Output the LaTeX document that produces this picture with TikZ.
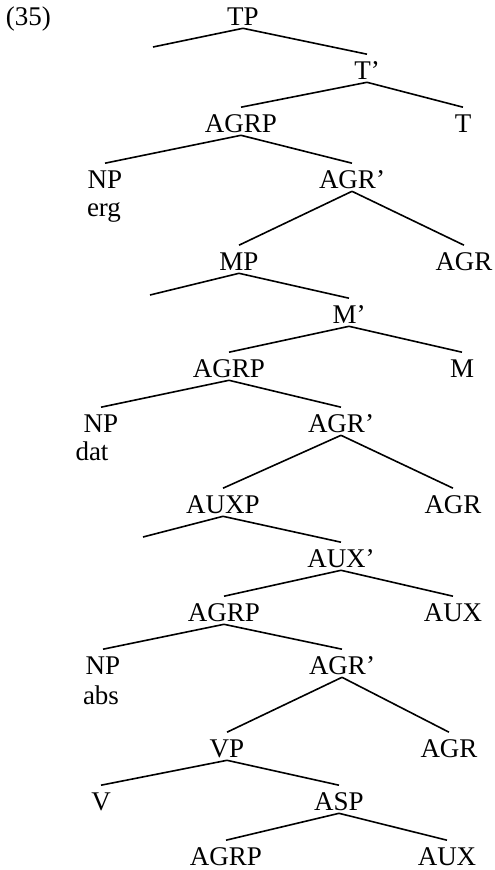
\documentclass[tikz,border=0pt]{standalone}
\usepackage{fontspec}
\setmainfont{Liberation Serif}
\usepackage{tikz}

\begin{document}
\begin{tikzpicture}[-,x=1pt,y=-1pt,line width=1.6pt,
  main node/.style={font=\fontsize{27}{32}\selectfont,text height=21.5pt,text depth=0pt,
    inner ysep=2.5pt,inner xsep=0pt,anchor=base},
  case node/.style={font=\fontsize{27}{32}\selectfont,inner sep=0pt,anchor=base}]
  \useasboundingbox (0,0) rectangle (495,870);

  \node[case node,anchor=base west] (ex) at (5,25) {(35)};

  \node[main node] (1) at (243,25) {TP};
  \node[main node] (2) at (367,79) {T’};
  \node[main node] (3) at (241,132) {AGRP};
  \node[main node] (4) at (463,132) {T};
  \node[main node] (5) at (105,188) {NP};
  \node[main node] (6) at (352,188) {AGR’};
  \node[main node] (7) at (239,270) {MP};
  \node[main node] (8) at (464,270) {AGR};
  \node[main node] (9) at (349,323) {M’};
  \node[main node] (10) at (229,377) {AGRP};
  \node[main node] (11) at (462,377) {M};
  \node[main node] (12) at (101,432) {NP};
  \node[main node] (13) at (341,432) {AGR’};
  \node[main node] (14) at (223,513) {AUXP};
  \node[main node] (15) at (453,513) {AGR};
  \node[main node] (16) at (341,567) {AUX’};
  \node[main node] (17) at (224,621) {AGRP};
  \node[main node] (18) at (453,621) {AUX};
  \node[main node] (19) at (103,674) {NP};
  \node[main node] (20) at (342,674) {AGR’};
  \node[main node] (21) at (227,757) {VP};
  \node[main node] (22) at (449,757) {AGR};
  \node[main node] (23) at (101,810) {V};
  \node[main node] (24) at (339,810) {ASP};
  \node[main node] (25) at (226,865) {AGRP};
  \node[main node] (26) at (447,865) {AUX};

  \node[case node] (erg) at (104,216) {erg};
  \node[case node] (dat) at (92,460) {dat};
  \node[case node] (abs) at (101,704) {abs};

  \coordinate (e1) at (153,47);
  \coordinate (e2) at (150,295);
  \coordinate (e3) at (143,537);

  \path
    (1.south) edge (e1)
              edge (2.north)
    (2.south) edge (3.north)
              edge (4.north)
    (3.south) edge (5.north)
              edge (6.north)
    (6.south) edge (7.north)
              edge (8.north)
    (7.south) edge (e2)
              edge (9.north)
    (9.south) edge (10.north)
              edge (11.north)
    (10.south) edge (12.north)
               edge (13.north)
    (13.south) edge (14.north)
               edge (15.north)
    (14.south) edge (e3)
               edge (16.north)
    (16.south) edge (17.north)
               edge (18.north)
    (17.south) edge (19.north)
               edge (20.north)
    (20.south) edge (21.north)
               edge (22.north)
    (21.south) edge (23.north)
               edge (24.north)
    (24.south) edge (25.north)
               edge (26.north);

\end{tikzpicture}
\end{document}
